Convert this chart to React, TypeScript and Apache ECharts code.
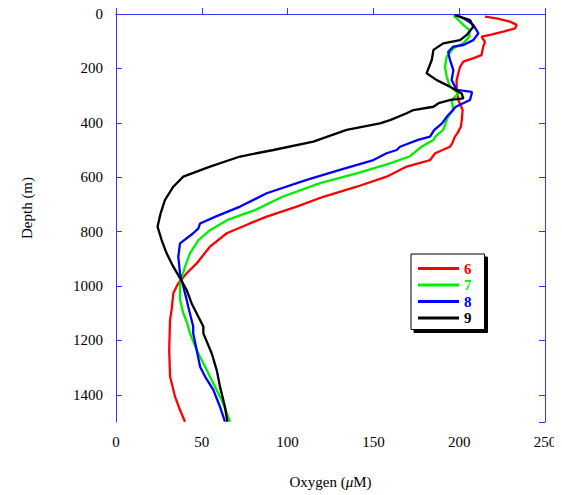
import React, { useEffect, useRef } from "react";
import * as echarts from "echarts";

// Profile 6 (red)
const depth6 = [10, 16, 28, 40, 53, 65, 77, 83, 102, 120, 151, 163, 175, 194, 218, 243, 279, 316, 353, 390, 414, 438, 451, 475, 488, 512, 537, 561, 598, 635, 672, 708, 745, 770, 806, 855, 917, 953, 990, 1027, 1088, 1125, 1235, 1333, 1407, 1456, 1499];
const oxy6 = [215, 221.8, 229.6, 233.5, 232.5, 225.7, 218, 213, 215, 214, 213, 208, 202.4, 200.5, 199.5, 198.5, 198.5, 199.5, 202, 201.5, 201, 199, 197.5, 196, 194.6, 186, 183, 169.4, 157.7, 140.3, 120.8, 105.3, 87.8, 78, 64.5, 54.8, 47, 41.2, 36.3, 33.4, 32.4, 31.5, 31, 31.5, 34.4, 37.3, 40.2];

// Profile 7 (green)
const depth7 = [4, 22, 40, 59, 83, 108, 126, 157, 194, 230, 267, 292, 316, 353, 378, 390, 426, 451, 463, 488, 524, 549, 586, 622, 672, 721, 757, 794, 831, 880, 929, 990, 1027, 1051, 1100, 1137, 1174, 1235, 1297, 1358, 1419, 1499];
const oxy7 = [196.6, 199.5, 202.4, 206, 206, 202.4, 196.6, 192.7, 191.7, 192.7, 194.6, 199.5, 195.6, 196.6, 193.5, 192.7, 190.7, 186, 185, 178, 171, 159.7, 140.3, 118.9, 97, 81, 65, 55, 48, 43.1, 40.2, 37.3, 37.3, 37.3, 39.2, 41.5, 43.1, 47, 51.9, 56.7, 61.6, 66.4];

// Profile 8 (blue)
const depth8 = [4, 22, 40, 71, 96, 114, 120, 139, 169, 206, 243, 279, 286, 292, 316, 341, 365, 378, 402, 426, 451, 463, 488, 500, 512, 537, 573, 610, 659, 708, 745, 770, 788, 806, 843, 892, 953, 1002, 1051, 1076, 1149, 1174, 1297, 1333, 1382, 1444, 1499];
const oxy8 = [198.5, 204.2, 208.2, 211.2, 208.2, 202.4, 196.6, 193.6, 194.6, 196.6, 195.6, 198.5, 207.3, 207.3, 206.3, 198, 194.6, 192.7, 190, 185.5, 183, 176, 165.5, 163.6, 157.7, 150, 130.5, 111.1, 87.8, 72.3, 58, 49, 48, 45, 37.3, 36.3, 37.3, 39.2, 41.2, 42.1, 45, 45, 49, 51.9, 56.7, 60.6, 63.5];

// Profile 9 (black)
const depth9 = [4, 22, 47, 77, 96, 108, 132, 169, 218, 243, 267, 292, 310, 316, 328, 341, 353, 365, 390, 402, 426, 469, 500, 524, 561, 598, 635, 684, 733, 782, 831, 880, 929, 971, 1015, 1064, 1113, 1149, 1174, 1248, 1309, 1370, 1444, 1499];
const oxy9 = [197.5, 206.3, 208.2, 204.4, 200.5, 190.7, 185, 184, 181, 186.9, 194.6, 201.4, 202.4, 195, 188, 185, 173.3, 169.4, 159.7, 153.8, 134.4, 115, 91.7, 72.3, 54.8, 39.2, 33.4, 28.5, 26, 24.2, 26.6, 29.5, 33.4, 37.3, 41.2, 44.1, 48, 50.9, 50.9, 55.8, 58.7, 60.6, 63.5, 64.9];

const profileNames = ["6", "7", "8", "9"];
const profileColors = ["#ff0000", "#00ee00", "#0000ff", "#000000"];
const profiles = [
  { depth: depth6, oxy: oxy6 },
  { depth: depth7, oxy: oxy7 },
  { depth: depth8, oxy: oxy8 },
  { depth: depth9, oxy: oxy9 },
];

const xTicks = { min: 0, max: 250, interval: 50 };
const yTicks = { min: 0, max: 1500, interval: 200 };

const FONT = "Liberation Serif";
const AXIS = "#3535ff";

export default function App() {
  const ref = useRef<HTMLDivElement>(null);
  useEffect(() => {
    if (!ref.current) return;
    const chart = echarts.init(ref.current, null, { renderer: "svg" });
    const series = profiles.map((p, i) => ({
      name: profileNames[i],
      type: "line",
      data: p.depth.map((d, k) => [p.oxy[k], d]),
      showSymbol: false,
      symbol: "none",
      lineStyle: { color: profileColors[i], width: 2.3 },
      itemStyle: { color: profileColors[i] },
      z: 2 + i,
    }));
    const tickLabel = { fontFamily: FONT, fontSize: 15, color: "#000" };
    chart.setOption({
      animation: false,
      backgroundColor: "#fff",
      grid: { left: 116, top: 14, width: 429, height: 408, containLabel: false },
      xAxis: [
        {
          type: "value",
          position: "bottom",
          ...xTicks,
          axisLine: { show: true, lineStyle: { color: AXIS, width: 1 } },
          axisTick: { show: true, inside: true, length: 6, lineStyle: { color: AXIS } },
          axisLabel: { ...tickLabel, margin: 12, formatter: (v: number) => String(v) },
          splitLine: { show: false },
          name: "{a|Oxygen (}{i|μ}{a|M)}",
          nameLocation: "middle",
          nameGap: 52,
          nameTextStyle: {
            rich: {
              a: { fontFamily: FONT, fontSize: 15, color: "#000" },
              i: { fontFamily: FONT, fontSize: 15, fontStyle: "italic", color: "#000" },
            },
          },
        },
        {
          type: "value",
          position: "top",
          ...xTicks,
          axisLine: { show: true, onZero: false, lineStyle: { color: AXIS, width: 1 } },
          axisTick: { show: false },
          axisLabel: { show: false },
          splitLine: { show: false },
        },
      ],
      yAxis: [
        {
          type: "value",
          position: "left",
          inverse: true,
          ...yTicks,
          axisLine: { show: true, lineStyle: { color: AXIS, width: 1 } },
          axisTick: { show: true, inside: true, length: 6, lineStyle: { color: AXIS } },
          axisLabel: { ...tickLabel, margin: 13, showMaxLabel: false, formatter: (v: number) => String(v) },
          splitLine: { show: false },
        },
        {
          type: "value",
          position: "right",
          inverse: true,
          ...yTicks,
          axisLine: { show: true, onZero: false, lineStyle: { color: AXIS, width: 1 } },
          axisTick: { show: true, inside: true, length: 6, lineStyle: { color: AXIS } },
          axisLabel: { show: false },
          splitLine: { show: false },
        },
      ],
      legend: {
        show: true,
        orient: "vertical",
        left: 411,
        top: 254,
        padding: [7, 13, 4, 7],
        itemGap: 1.5,
        itemWidth: 41,
        itemHeight: 3,
        icon: "rect",
        backgroundColor: "#fff",
        borderColor: "#000",
        borderWidth: 1,
        borderRadius: 0,
        shadowColor: "#000",
        shadowBlur: 0,
        shadowOffsetX: 3,
        shadowOffsetY: 3,
        data: profileNames.map((n, i) => ({
          name: n,
          textStyle: {
            color: profileColors[i],
            fontFamily: FONT,
            fontSize: 15,
            fontWeight: "bold",
            lineHeight: 14,
          },
        })),
      },
      graphic: [
        {
          type: "text",
          x: 27,
          y: 208,
          rotation: Math.PI / 2,
          style: {
            text: "Depth (m)",
            fontFamily: FONT,
            fontSize: 15,
            fill: "#000",
            align: "center",
            verticalAlign: "middle",
          },
        },
      ],
      series,
    });
    return () => chart.dispose();
  }, []);
  return <div ref={ref} style={{ width: 562, height: 495, marginLeft: -8, marginTop: -8 }} />;
}
